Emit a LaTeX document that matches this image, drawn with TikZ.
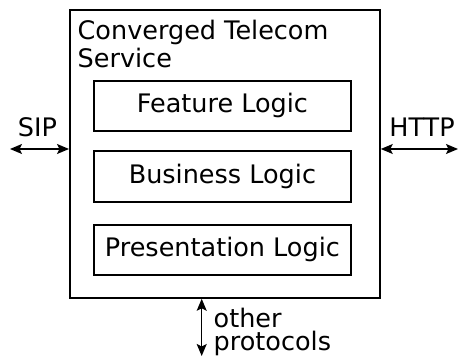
\documentclass[tikz,border=0pt]{standalone}
\usepackage{fontspec}
\setmainfont{DejaVu Sans}
\usetikzlibrary{arrows.meta}
\begin{document}
\begin{tikzpicture}[x=1pt,y=-1pt,
  box/.style={draw,line width=1.8pt,inner sep=0pt,anchor=north west},
  layer/.style={box,minimum width=257pt,text height=18pt,text depth=4pt,
    font=\fontsize{25.5}{28}\selectfont},
  lbl/.style={inner sep=0pt,font=\fontsize{25.5}{28}\selectfont},
  link/.style={line width=1.3pt,{Stealth[length=12pt,width=10pt,inset=2.5pt]}-{Stealth[length=12pt,width=10pt,inset=2.5pt]}}]
\useasboundingbox (0,0) rectangle (459,358);
% service container
\node[box,minimum width=310pt,minimum height=288pt] (svc) at (69,9) {};
\node[lbl,anchor=north west,align=left] (title) at (77.5,20) {Converged Telecom\\Service};
% logic layers
\node[layer,minimum height=50pt] (feat) at (93,80) {Feature Logic};
\node[layer,minimum height=51pt] (bus) at (93,150) {Business Logic};
\node[layer,minimum height=50pt] (pres) at (93,224) {Presentation Logic};
% protocol endpoints
\coordinate (sipend) at (10,149);
\coordinate (httpend) at (458,149);
\coordinate (othend) at (201.7,356);
\draw[link] (sipend) -- (svc.west |- sipend);
\draw[link] (svc.east |- httpend) -- (httpend);
\draw[link] (svc.south -| othend) -- (othend);
\node[lbl,anchor=base] (sip) at (37.5,137) {SIP};
\node[lbl,anchor=base] (http) at (422,137) {HTTP};
\node[lbl,anchor=north west,align=left,font=\fontsize{25.5}{23}\selectfont] (other) at (213.5,308) {other\\protocols};
\end{tikzpicture}
\end{document}
